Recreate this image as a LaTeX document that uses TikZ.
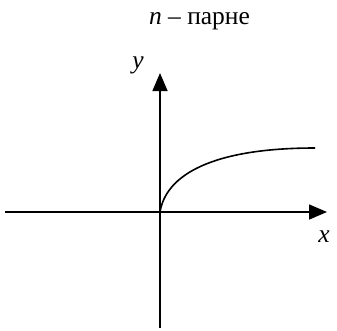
\documentclass[tikz,border=0pt]{standalone}
\usepackage{fontspec}
\setmainfont{Liberation Serif}
\usetikzlibrary{arrows.meta}
\begin{document}
\begin{tikzpicture}[x=1pt,y=-1pt,
  axis/.style={line width=1.6pt,-{Triangle[length=18pt,width=15pt]}},
  curvestyle/.style={line width=1.6pt},
  lbl/.style={inner sep=0pt,font=\fontsize{25.5}{30}\selectfont}]
\useasboundingbox (0,0) rectangle (337,330);
\coordinate (xl) at (5,212);
\coordinate (xr) at (327,212);
\coordinate (yb) at (160,328);
\coordinate (yt) at (160,73);
\coordinate (o) at (160,212);
\coordinate (e) at (315,148);
\draw[axis] (xl) -- (xr);
\draw[axis] (yb) -- (yt);
\draw[curvestyle] (o) .. controls (166,175) and (212,148) .. (e);
\node[lbl] (t) at (199.5,21) {\textit{n} – парне};
\node[lbl] (xlab) at (324,237) {\textit{x}};
\node[lbl] (ylab) at (138,65) {\textit{y}};
\end{tikzpicture}
\end{document}
